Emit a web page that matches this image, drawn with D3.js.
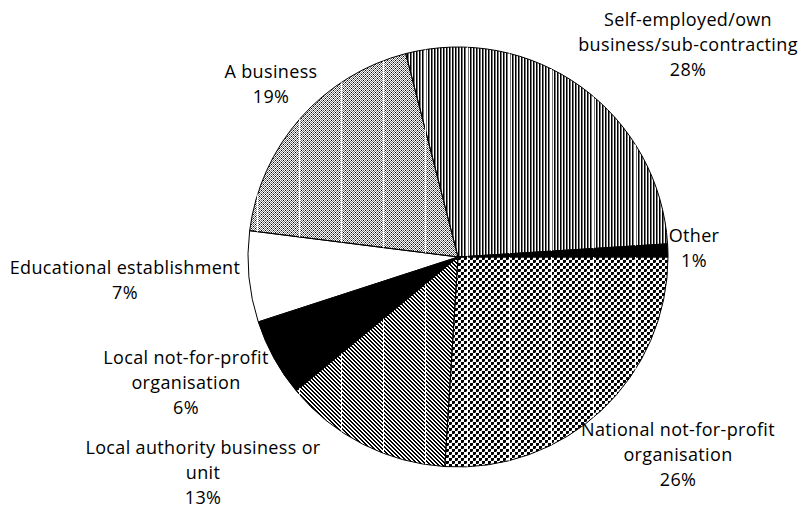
<!DOCTYPE html>
<html>
<head>
<meta charset="utf-8">
<script src="https://cdn.jsdelivr.net/npm/d3@7"></script>
<style>
  html, body { margin: 0; padding: 0; background: #fff; }
  svg { display: block; }
  text { font-family: "Open Sans", Lato, sans-serif; font-size: 18px; letter-spacing: 0.35px; fill: #000; }
</style>
</head>
<body>
<svg id="chart" width="804" height="512"></svg>
<script>
// Where respondents work: share of each organisation type (%)
const categories = [
  "National not-for-profit organisation",
  "Local authority business or unit",
  "Local not-for-profit organisation",
  "Educational establishment",
  "A business",
  "Self-employed/own business/sub-contracting",
  "Other"
];
const values = [26, 13, 6, 7, 19, 28, 1];

// Label text broken into lines as printed
const labelLines = [
  ["National not-for-profit", "organisation"],
  ["Local authority business or", "unit"],
  ["Local not-for-profit", "organisation"],
  ["Educational establishment"],
  ["A business"],
  ["Self-employed/own", "business/sub-contracting"],
  ["Other"]
];

// ---- layout & style ----
const W = 804, H = 512;
const cx = 458, cy = 257, R = 210;
const lineH = 25;
// centre of each label's first line
const labelAt = [
  [678, 430], [203, 448], [186, 358], [125, 268], [271, 72], [688, 20], [694, 236]
];
// pixel tiles: K black, G grey, W white
const tiles = [
  ["KKKWWW", "KKKWWW", "KKGWWW", "WWWKKK", "WWWKKK", "WWWKKG"], // national: checker
  ["KKWW", "WKKW", "WWKK", "KWWK"],         // local authority: diagonal hatch
  null,                                     // local nfp: solid black
  null,                                     // educational: white
  ["GWGW", "WGWK", "GWGW", "WKWG"],         // a business: light dotted
  ["KGW"],                                  // self-employed: vertical stripes
  null                                      // other: solid black
];
const solid = [null, null, "#000", "#fff", null, null, "#000"];
const pixColor = { K: "#000", G: "#777", W: "#fff" };
const seamStep = 42, seamStart = 5;

const svg = d3.select("#chart");
const defs = svg.append("defs");

// build the tiled fill patterns
tiles.forEach((t, i) => {
  if (!t) return;
  const tw = t[0].length, th = t.length;
  const p = defs.append("pattern")
    .attr("id", "pat" + i)
    .attr("patternUnits", "userSpaceOnUse")
    .attr("width", tw).attr("height", th);
  t.forEach((row, y) => {
    row.split("").forEach((c, x) => {
      p.append("rect").attr("x", x).attr("y", y)
        .attr("width", 1).attr("height", 1)
        .attr("fill", pixColor[c])
        .attr("shape-rendering", "crispEdges");
    });
  });
});

const pie = d3.pie().sort(null).value(d => d)
  .startAngle(Math.PI / 2).endAngle(Math.PI / 2 + 2 * Math.PI);
const arcs = pie(values);
const arc = d3.arc().innerRadius(0).outerRadius(R);

const g = svg.append("g").attr("transform", `translate(${cx},${cy})`);

// slice fills
g.selectAll("path.fill").data(arcs).enter().append("path")
  .attr("class", "fill")
  .attr("d", arc)
  .attr("fill", (d, i) => solid[i] || `url(#pat${i})`);

// faint white tile seams over the textured slices
const clip = defs.append("clipPath").attr("id", "texClip");
arcs.forEach((d, i) => {
  if (tiles[i]) clip.append("path").attr("d", arc(d))
    .attr("transform", `translate(${cx},${cy})`);
});
const seams = d3.range(seamStart, W, seamStep);
svg.append("g").attr("clip-path", "url(#texClip)")
  .selectAll("rect").data(seams).enter().append("rect")
  .attr("x", d => d).attr("y", 0).attr("width", 1).attr("height", H)
  .attr("fill", "#fff");

// slice outlines
g.selectAll("path.edge").data(arcs).enter().append("path")
  .attr("class", "edge")
  .attr("d", arc)
  .attr("fill", "none")
  .attr("stroke", "#000")
  .attr("stroke-width", 1)
  .attr("stroke-linejoin", "round");

// data labels
const labels = svg.append("g");
categories.forEach((c, i) => {
  const lines = labelLines[i].concat([values[i] + "%"]);
  const [lx, ly] = labelAt[i];
  const t = labels.append("text").attr("text-anchor", "middle");
  lines.forEach((s, k) => {
    t.append("tspan").attr("x", lx).attr("y", ly + k * lineH)
      .attr("dy", "0.35em").text(s);
  });
});
</script>
</body>
</html>
